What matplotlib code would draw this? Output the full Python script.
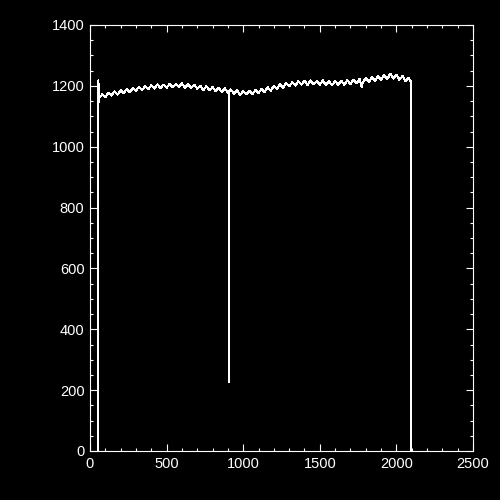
"""
Recreate the IDL-style spectrum plot (white on black) and save it as out.png.
"""

from __future__ import annotations

import matplotlib

matplotlib.use("Agg")
import matplotlib.pyplot as plt
from matplotlib.ticker import MultipleLocator

# Spectrum (channel, counts)
CHANNELS = [
    54, 55, 58,
    60, 80, 100, 120, 140, 160, 180, 200, 220, 240,
    260, 280, 300, 320, 340, 360, 380, 400, 420, 440,
    460, 480, 500, 520, 540, 560, 580, 600, 620, 640,
    660, 680, 700, 720, 740, 760, 780, 800, 820, 840,
    860, 880, 900, 905, 907, 909, 920, 940, 960, 980, 1000, 1020, 1040,
    1060, 1080, 1100, 1120, 1140, 1160, 1180, 1200, 1220, 1240,
    1260, 1280, 1300, 1320, 1340, 1360, 1380, 1400, 1420, 1440,
    1460, 1480, 1500, 1520, 1540, 1560, 1580, 1600, 1620, 1640,
    1660, 1680, 1700, 1720, 1740, 1760, 1773, 1780, 1800, 1820, 1840,
    1860, 1880, 1900, 1920, 1940, 1960, 1980, 2000, 2020, 2040,
    2060, 2080, 2094, 2095,
]
COUNTS = [
    0, 1218, 1148,
    1160, 1172, 1163, 1178, 1168, 1182, 1171, 1186, 1176, 1190,
    1179, 1192, 1184, 1197, 1186, 1199, 1189, 1202, 1191, 1205,
    1193, 1204, 1194, 1207, 1195, 1206, 1196, 1208, 1194, 1205,
    1193, 1204, 1191, 1201, 1186, 1199, 1185, 1196, 1183, 1193,
    1180, 1192, 1178, 1184, 225, 1182, 1188, 1174, 1185, 1170, 1182, 1172, 1184,
    1173, 1186, 1176, 1190, 1180, 1195, 1184, 1199, 1190, 1205,
    1194, 1209, 1198, 1212, 1201, 1215, 1204, 1217, 1203, 1218,
    1205, 1216, 1204, 1218, 1203, 1215, 1202, 1216, 1203, 1217,
    1204, 1219, 1206, 1220, 1208, 1223, 1195, 1210, 1226, 1213, 1229,
    1216, 1232, 1220, 1235, 1222, 1240, 1224, 1237, 1220, 1232,
    1216, 1226, 1214, 0,
]

X_TICKS = [0, 500, 1000, 1500, 2000, 2500]
Y_TICKS = [0, 200, 400, 600, 800, 1000, 1200, 1400]

FG = "white"
BG = "black"


def main() -> None:
    plt.rcParams["font.family"] = ["Liberation Sans", "DejaVu Sans"]

    fig = plt.figure(figsize=(5, 5), dpi=100, facecolor=BG)
    ax = fig.add_axes([0.18, 0.098, 0.766, 0.852], facecolor=BG)

    # IDL output is not antialiased; keep the trace crisp and one pixel wide
    ax.plot(CHANNELS, COUNTS, color=FG, linewidth=0.75, antialiased=False)

    ax.set_xlim(0, 2500)
    ax.set_ylim(0, 1400)
    ax.set_xticks(X_TICKS)
    ax.set_yticks(Y_TICKS)
    ax.xaxis.set_minor_locator(MultipleLocator(100))
    ax.yaxis.set_minor_locator(MultipleLocator(50))

    for side in ax.spines.values():
        side.set_color(FG)
        side.set_linewidth(0.8)

    ax.tick_params(which="both", direction="in", colors=FG, top=True, right=True,
                   width=0.8, labelsize=10.5, labelcolor=FG)
    ax.tick_params(which="major", length=5, pad=4)
    ax.tick_params(which="minor", length=2.4)

    fig.savefig("out.png", dpi=100, facecolor=BG)
    plt.close(fig)


if __name__ == "__main__":
    main()
